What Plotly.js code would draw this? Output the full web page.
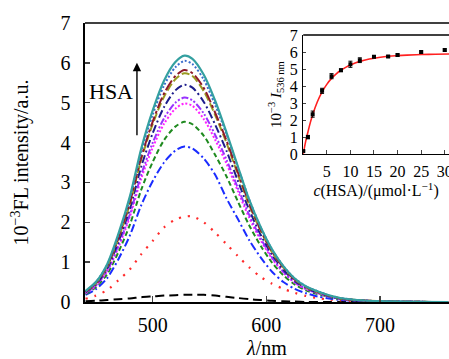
<!DOCTYPE html>
<html><head><meta charset="utf-8">
<script src="https://cdn.plot.ly/plotly-3.0.1.min.js"></script>
<style>html,body{margin:0;padding:0;background:#fff;}</style>
</head><body><div id="chart" style="width:449px;height:359px;"></div>
<script>
// Emission spectra (wavelength grid, nm)
var wavelength = [441,450,460,470,480,490,500,510,520,528,535,545,555,565,575,585,595,605,615,625,635,645,655,665,680,700,730,760];
var s0_black   = [0.02,0.03,0.05,0.07,0.09,0.12,0.14,0.16,0.17,0.18,0.18,0.18,0.16,0.13,0.10,0.07,0.05,0.03,0.02,0.01,0,0,0,0,0,0,0,0];
var s1_red     = [0.08,0.16,0.30,0.55,0.82,1.20,1.53,1.87,2.07,2.14,2.15,2.00,1.74,1.45,1.15,0.87,0.63,0.46,0.33,0.23,0.15,0.10,0.06,0.04,0.015,0.005,0,0];
var s2_blue    = [0.18,0.32,0.60,1.08,1.67,2.43,3.03,3.50,3.80,3.90,3.85,3.60,3.19,2.60,2.08,1.55,1.12,0.76,0.50,0.33,0.22,0.14,0.09,0.05,0.03,0.01,0.004,0];
var s3_green   = [0.20,0.37,0.70,1.26,1.94,2.82,3.51,4.06,4.40,4.52,4.46,4.17,3.69,3.15,2.52,1.92,1.41,0.99,0.67,0.44,0.29,0.20,0.13,0.07,0.04,0.01,0.005,0];
var s4_magenta = [0.22,0.40,0.77,1.38,2.14,3.10,3.87,4.47,4.85,4.98,4.92,4.59,4.07,3.47,2.78,2.11,1.55,1.09,0.74,0.48,0.32,0.22,0.14,0.08,0.04,0.02,0.005,0];
var s5_purple  = [0.23,0.42,0.79,1.43,2.20,3.20,3.99,4.61,5.00,5.13,5.06,4.73,4.19,3.57,2.86,2.18,1.60,1.12,0.76,0.50,0.33,0.23,0.14,0.08,0.04,0.02,0.005,0];
var s6_navy    = [0.25,0.44,0.84,1.52,2.34,3.40,4.23,4.89,5.31,5.45,5.38,5.02,4.45,3.79,3.04,2.31,1.69,1.19,0.81,0.53,0.35,0.24,0.15,0.09,0.04,0.02,0.005,0];
var s7_olive   = [0.26,0.46,0.88,1.60,2.46,3.58,4.46,5.15,5.59,5.74,5.67,5.29,4.69,3.99,3.20,2.43,1.79,1.25,0.86,0.56,0.37,0.25,0.16,0.09,0.05,0.02,0.005,0];
var s8_brown   = [0.26,0.47,0.90,1.62,2.50,3.63,4.52,5.23,5.67,5.82,5.74,5.37,4.75,4.05,3.25,2.47,1.81,1.27,0.87,0.56,0.38,0.26,0.16,0.09,0.05,0.02,0.005,0];
var s9_sblue   = [0.27,0.49,0.93,1.68,2.60,3.77,4.70,5.43,5.89,6.05,5.97,5.58,4.94,4.21,3.38,2.57,1.88,1.32,0.90,0.59,0.39,0.27,0.17,0.10,0.05,0.02,0.005,0];
var s10_teal   = [0.28,0.50,0.95,1.72,2.65,3.85,4.80,5.55,6.02,6.18,6.10,5.70,5.05,4.25,3.40,2.56,1.88,1.32,0.90,0.59,0.39,0.27,0.17,0.10,0.05,0.02,0.005,0];

// Inset: intensity at 536 nm vs c(HSA)
var insetConc  = [0,1,2,4,6,8,10,12,15,18,20,25,30];
var insetI     = [0.18,1.0,2.35,3.72,4.58,4.93,5.28,5.52,5.72,5.73,5.82,6.0,6.12];
var insetErr   = [0.05,0.1,0.18,0.15,0.15,0.08,0.18,0.14,0.06,0.05,0.06,0.06,0.06];
var fitConc    = [0,0.5,1,1.5,2,3,4,5,6,7,8,9,10,12,14,16,18,20,22,25,28,31];
var fitI       = [0,0.72,1.3,1.85,2.32,3.08,3.66,4.1,4.45,4.72,4.93,5.1,5.24,5.45,5.59,5.68,5.75,5.79,5.82,5.85,5.87,5.88];

var xTicks = [500,600,700];
var yTicks = [0,1,2,3,4,5,6,7];
var insetXTicks = [5,10,15,20,25,30];
var insetYTicks = [0,1,2,3,4,5,6,7];

var series = [
  [s0_black,  '#000000', '9px,5px', 2],
  [s1_red,    '#ff2a2a', '2px,7px', 2.2],
  [s2_blue,   '#1a2cff', '8px,3px,2px,3px', 2],
  [s3_green,  '#1f8a1f', '5px,3px', 2],
  [s4_magenta,'#ff22ff', '2px,2px', 2],
  [s5_purple, '#9933ff', '7px,2px,2px,2px,2px,2px', 2],
  [s6_navy,   '#1c1c8c', '8px,3px,2px,3px', 2],
  [s7_olive,  '#9a9a22', '8px,3px', 2],
  [s8_brown,  '#8e1a2a', '11px,3px,3px,3px', 2],
  [s9_sblue,  '#3a6ccc', '2px,2px', 2],
  [s10_teal,  '#34a0a0', 'solid', 2.2]
];
var traces = series.map(function(s){
  return {x: wavelength, y: s[0], type:'scatter', mode:'lines',
          line:{color:s[1], dash:s[2], width:s[3], shape:'spline', smoothing:0.8},
          xaxis:'x', yaxis:'y', hoverinfo:'skip'};
});
traces.push({x: fitConc, y: fitI, type:'scatter', mode:'lines',
  line:{color:'#ff2020', width:1.6, shape:'spline'}, xaxis:'x2', yaxis:'y2'});
traces.push({x: insetConc, y: insetI, type:'scatter', mode:'markers',
  marker:{symbol:'square', size:4, color:'#000'},
  error_y:{type:'data', array: insetErr, visible:true, color:'#000', thickness:1, width:2},
  xaxis:'x2', yaxis:'y2'});

var font = "Liberation Serif";
var layout = {
  width:449, height:359, showlegend:false,
  paper_bgcolor:'#fff', plot_bgcolor:'#fff',
  margin:{l:85, r:0, t:23, b:57},
  font:{family:font, color:'#000', size:18},
  xaxis:{range:[440.5,760.7], tickvals:xTicks, ticks:'inside', ticklen:6, tickwidth:1.3,
    showline:true, linewidth:1.6, linecolor:'#000', showgrid:false, zeroline:false,
    tickfont:{family:font, size:20}, ticklabelstandoff:4,
    title:{text:'<i>λ</i>/nm', font:{family:font, size:20}, standoff:10}},
  yaxis:{range:[0,7], tickvals:yTicks, ticks:'inside', ticklen:5, tickwidth:1.3,
    showline:true, linewidth:1.6, linecolor:'#000', showgrid:false, zeroline:false,
    tickfont:{family:font, size:20}, ticklabelstandoff:9,
    title:{text:'10<sup>−3</sup>FL intensity/a.u.', font:{family:font, size:20}, standoff:26}},
  xaxis2:{domain:[0.5995,1], anchor:'y2', range:[0,30.9], tickvals:insetXTicks, ticks:'inside',
    ticklen:4, tickwidth:1, showline:true, linewidth:1.3, linecolor:'#000', showgrid:false,
    zeroline:false, tickfont:{family:font, size:16}, ticklabelstandoff:2, ticklabeloverflow:'allow',
    title:{text:'<i>c</i>(HSA)/(μmol·L<sup>−1</sup>)', font:{family:font, size:16}, standoff:4}},
  yaxis2:{domain:[0.530,0.957], anchor:'x2', range:[0,7], tickvals:insetYTicks, ticks:'inside',
    ticklen:3, tickwidth:1, showline:true, linewidth:1.3, linecolor:'#000', showgrid:false,
    zeroline:false, tickfont:{family:font, size:16}, ticklabelstandoff:1,
    title:{text:'10<sup>−3</sup> <i>I</i><sub>536 nm</sub>', font:{family:font, size:15}, standoff:4}},
  shapes:[
    {type:'line', xref:'paper', yref:'paper', x0:0, x1:1, y0:1, y1:1, line:{color:'#000', width:1.6}},
    {type:'line', xref:'x2 domain', yref:'y2 domain', x0:0, x1:1, y0:1, y1:1, line:{color:'#000', width:1.3}}
  ],
  annotations:[
    {xref:'x', yref:'y', x:486.2, y:6.0, ax:0, ay:74, text:'', showarrow:true,
     arrowhead:2, arrowsize:1.2, arrowwidth:1.4, arrowcolor:'#000'},
    {xref:'paper', yref:'paper', x:0.005, y:0.755, xanchor:'left', yanchor:'middle',
     text:'HSA', showarrow:false, font:{family:font, size:22}}
  ]
};
Plotly.newPlot('chart', traces, layout, {staticPlot:true, displayModeBar:false});
</script></body></html>
